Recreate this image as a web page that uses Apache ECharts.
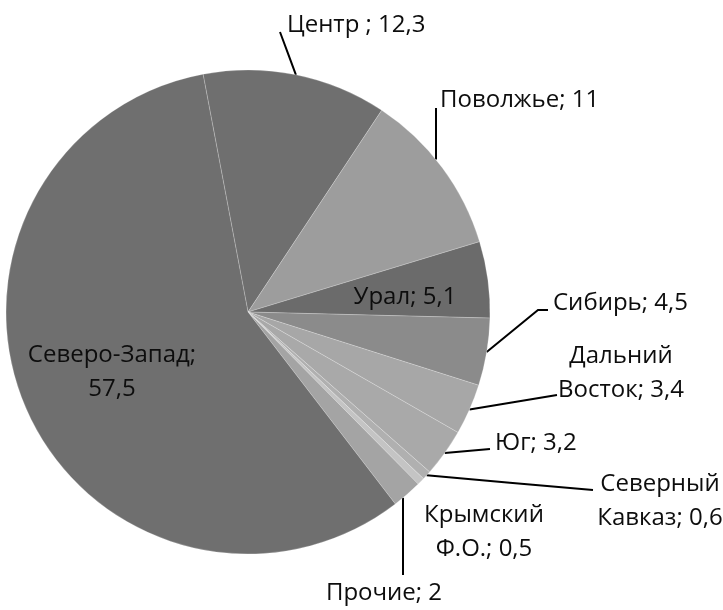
<!DOCTYPE html>
<html>
<head>
<meta charset="utf-8">
<script src="https://cdn.jsdelivr.net/npm/echarts@6/dist/echarts.min.js"></script>
<style>
html,body{margin:0;padding:0;background:#fff;}
#chart{width:723px;height:610px;}
</style>
</head>
<body>
<div id="chart"></div>
<script>
// Data (order clockwise, starting slightly left of 12 o'clock)
const categories = ['Центр', 'Поволжье', 'Урал', 'Сибирь', 'Дальний\nВосток', 'Юг', 'Северный\nКавказ', 'Крымский\nФ.О.', 'Прочие', 'Северо-Запад'];
const values = [12.3, 11, 5.1, 4.5, 3.4, 3.2, 0.6, 0.5, 2, 57.5];
const separators = [' ; ', '; ', '; ', '; ', '; ', '; ', '; ', '; ', '; ', ';\n'];

// Styling
const colors = ['#6f6f6f', '#9d9d9d', '#6b6b6b', '#8b8b8b', '#a7a7a7', '#a9a9a9', '#b0b0b0', '#c4c4c4', '#a4a4a4', '#6f6f6f'];
const insideIdx = [2, 9];
const noLineIdx = [7];
const CX = 248, CY = 312, R = 242;

// Label layout (pixel positions of label anchors and leader-line bends)
const labelLayouts = [
  {x: 287, y: 25, align: 'left', bend: null, end: [280, 32]},
  {x: 440, y: 100, align: 'left', bend: 'vertical', end: [436, 108]},
  {x: 405, y: 297, align: 'center'},
  {x: 553, y: 303, align: 'left', bend: [538, 310], end: [548, 310]},
  {x: 621, y: 373, align: 'center', bend: null, end: [557, 395]},
  {x: 495, y: 443, align: 'left', bend: null, end: [490, 449]},
  {x: 660, y: 501, align: 'center', bend: null, end: [593, 490]},
  {x: 484, y: 532, align: 'center'},
  {x: 384, y: 593, align: 'center', bend: 'vertical', end: [403, 575]},
  {x: 112, y: 372, align: 'center'}
];

const fmt = v => String(v).replace('.', ',');

const data = categories.map((name, i) => {
  const item = {
    name: name,
    value: values[i],
    itemStyle: {color: colors[i]}
  };
  if (insideIdx.indexOf(i) >= 0) {
    item.label = {position: 'inside'};
    item.labelLine = {show: false};
  }
  if (noLineIdx.indexOf(i) >= 0) {
    item.labelLine = {show: false};
  }
  return item;
});

const chart = echarts.init(document.getElementById('chart'), null, {renderer: 'canvas'});
chart.setOption({
  backgroundColor: '#ffffff',
  animation: false,
  series: [{
    type: 'pie',
    center: [CX, CY],
    radius: R,
    startAngle: 100.7,
    clockwise: true,
    avoidLabelOverlap: false,
    data: data,
    itemStyle: {borderColor: 'rgba(255,255,255,0.35)', borderWidth: 0.6},
    label: {
      show: true,
      position: 'outside',
      fontFamily: '"Open Sans", "Noto Sans", sans-serif',
      fontSize: 24,
      lineHeight: 34,
      color: '#0d0d0d',
      formatter: p => p.name + separators[p.dataIndex] + fmt(p.value)
    },
    labelLine: {show: true, length: 20, length2: 10, lineStyle: {color: '#000', width: 2}},
    labelLayout: function (params) {
      const L = labelLayouts[params.dataIndex];
      const out = {x: L.x, y: L.y, align: L.align, verticalAlign: 'middle'};
      const pts = params.labelLinePoints;
      if (pts && L.end) {
        let s = pts[0];
        const e = L.end;
        let m;
        if (L.bend === 'vertical') {
          const dx = e[0] - CX;
          const dy = Math.sqrt(R * R - dx * dx);
          const sy = e[1] < CY ? CY - dy : CY + dy;
          s = [e[0], sy];
          m = [e[0], (sy + e[1]) / 2];
        } else if (L.bend == null) {
          m = [(s[0] + e[0]) / 2, (s[1] + e[1]) / 2];
        } else {
          m = L.bend;
        }
        out.labelLinePoints = [s, m, e];
      }
      return out;
    },
    emphasis: {disabled: true}
  }]
});
</script>
</body>
</html>
